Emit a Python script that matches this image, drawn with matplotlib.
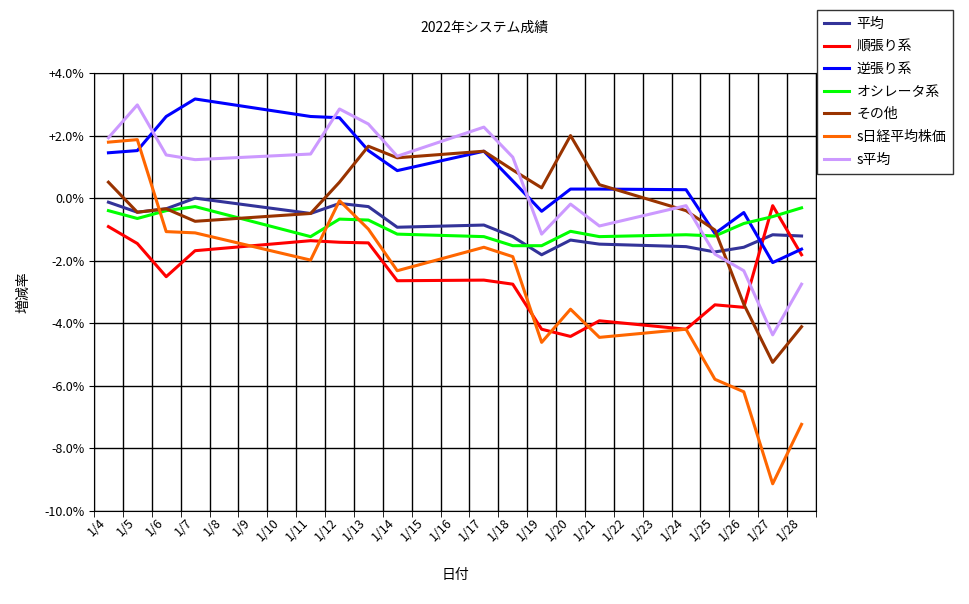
import matplotlib
matplotlib.use('Agg')
import matplotlib.pyplot as plt
import numpy as np

plt.rcParams['font.family'] = ['Noto Sans CJK JP', 'DejaVu Sans']

# trading days of January 2022
days = [4, 5, 6, 7, 11, 12, 13, 14, 17, 18, 19, 20, 21, 24, 25, 26, 27, 28]
label_days = list(range(4, 29))

heikin = [-0.13, -0.45, -0.34, 0.0, -0.49, -0.17, -0.27, -0.93, -0.86, -1.23, -1.81, -1.34, -1.47, -1.55, -1.72, -1.57, -1.17, -1.21]
junbari = [-0.91, -1.45, -2.51, -1.68, -1.36, -1.41, -1.43, -2.64, -2.62, -2.75, -4.19, -4.42, -3.92, -4.19, -3.41, -3.49, -0.24, -1.81]
gyakubari = [1.45, 1.52, 2.61, 3.17, 2.61, 2.57, 1.52, 0.88, 1.50, 0.55, -0.42, 0.29, 0.29, 0.27, -1.13, -0.46, -2.06, -1.63]
oscillator = [-0.40, -0.65, -0.40, -0.27, -1.23, -0.67, -0.70, -1.15, -1.23, -1.52, -1.52, -1.06, -1.23, -1.17, -1.21, -0.81, -0.59, -0.31]
sonota = [0.51, -0.45, -0.34, -0.74, -0.49, 0.51, 1.66, 1.29, 1.50, 0.90, 0.33, 2.00, 0.43, -0.40, -1.02, -3.39, -5.25, -4.11]
nikkei = [1.79, 1.87, -1.07, -1.11, -1.98, -0.08, -0.99, -2.32, -1.57, -1.87, -4.61, -3.55, -4.45, -4.19, -5.79, -6.19, -9.13, -7.23]
s_heikin = [1.93, 2.98, 1.38, 1.23, 1.41, 2.85, 2.37, 1.34, 2.27, 1.31, -1.15, -0.19, -0.89, -0.24, -1.79, -2.32, -4.37, -2.75]

series = [
    ('平均', heikin, '#333399'),
    ('順張り系', junbari, '#ff0000'),
    ('逆張り系', gyakubari, '#0000ff'),
    ('オシレータ系', oscillator, '#00ff00'),
    ('その他', sonota, '#993300'),
    ('s日経平均株価', nikkei, '#ff6600'),
    ('s平均', s_heikin, '#cc99ff'),
]

fig = plt.figure(figsize=(9.7, 6.04), dpi=100)
ax = fig.add_axes([94 / 970, 1 - 511 / 604, (816 - 94) / 970, (511 - 73) / 604])

for name, vals, col in series:
    ax.plot(days, vals, color=col, lw=2.2, label=name)

ax.set_xlim(3.5, 28.5)
ax.set_ylim(-10, 4)
ax.set_yticks(np.arange(-10, 5, 2))
ax.set_yticklabels([('+' if v > 0 else '') + f'{v:.1f}%' for v in np.arange(-10, 5, 2)], fontsize=9)
ax.set_xticks(label_days)
ax.set_xticklabels([f'1/{d}' for d in label_days], rotation=45, ha='right', fontsize=9)
ax.set_xticks(np.arange(3.5, 29, 1), minor=True)
ax.tick_params(axis='x', which='major', length=0)
ax.tick_params(axis='x', which='minor', length=4, direction='out')
ax.grid(True, which='minor', axis='x', color='black', lw=1)
ax.grid(True, which='major', axis='y', color='black', lw=1)
for s in ax.spines.values():
    s.set_color('black')
ax.set_axisbelow(True)

ax.set_xlabel('日付', fontsize=10, labelpad=18)
ax.set_ylabel('増減率', fontsize=10, labelpad=10)
fig.text(485 / 970, 1 - 28 / 604, '2022年システム成績', ha='center', va='center', fontsize=10)

leg = fig.legend(loc='upper right', bbox_to_anchor=(960 / 970, 1 - 3 / 604), fontsize=10,
                 frameon=True, fancybox=False, edgecolor='black', handlelength=1.8,
                 handletextpad=0.5, borderpad=0.5, labelspacing=0.62)
leg.get_frame().set_linewidth(1)

fig.savefig('out.png', dpi=100)
